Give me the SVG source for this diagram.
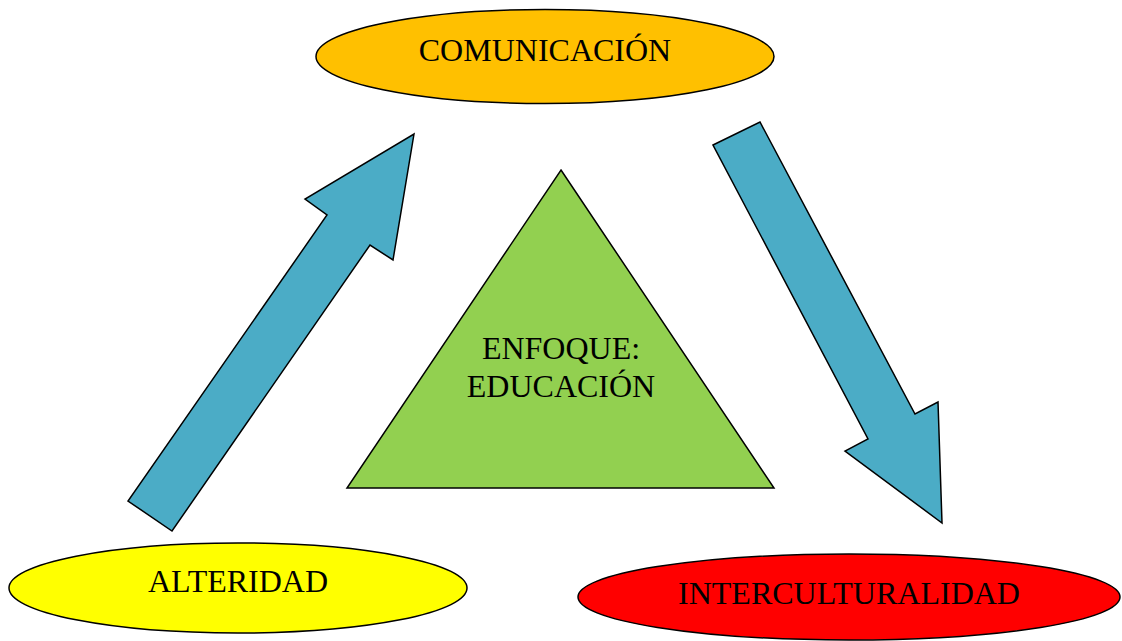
<svg xmlns="http://www.w3.org/2000/svg" width="1122" height="641" viewBox="0 0 1122 641">
<style>
.s{stroke:#000;stroke-width:1.5;stroke-linejoin:miter}
.arrow{fill:#4BACC6}
.t{font-family:"Liberation Serif","Times New Roman",serif;font-size:32px;fill:#000;text-anchor:middle}
</style>
<rect width="1122" height="641" fill="#fff"/>
<g id="connectors">
<polygon class="s arrow" points="414,134 393,260 370,245 172,531 128,501 327,215 305,199"/>
<polygon class="s arrow" points="713,145 760,122 915,414 938,402 942,523 845,451 868,439"/>
</g>
<g id="enfoque">
<polygon class="s" fill="#92D050" points="561,170 774,488 347,488"/>
<text class="t" x="561" y="359">ENFOQUE:</text>
<text class="t" x="561" y="397">EDUCACIÓN</text>
</g>
<g id="comunicacion">
<ellipse class="s" fill="#FFC000" cx="545" cy="56.5" rx="229" ry="47"/>
<text class="t" x="545" y="61">COMUNICACIÓN</text>
</g>
<g id="alteridad">
<ellipse class="s" fill="#FFFF00" cx="238" cy="588" rx="229" ry="45"/>
<text class="t" x="238" y="592">ALTERIDAD</text>
</g>
<g id="interculturalidad">
<ellipse class="s" fill="#FF0000" cx="849" cy="597" rx="271" ry="43"/>
<text class="t" x="849" y="604">INTERCULTURALIDAD</text>
</g>
</svg>
